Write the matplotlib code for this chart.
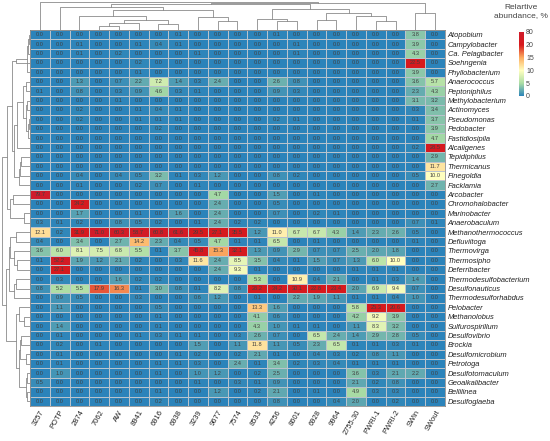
import matplotlib.pyplot as plt
import numpy as np
from matplotlib.colors import LinearSegmentedColormap, FuncNorm

plt.rcParams['font.family'] = ['Liberation Sans', 'DejaVu Sans']

samples = ["3257", "POTP", "2874", "7062", "AW", "8941", "6916", "6938", "3239",
           "9677", "7574", "8533", "4256", "8601", "6928", "9964", "2755-30",
           "PWRI-1", "PWRI-2", "SWin", "SWout"]

genera = ["Atopobium", "Campylobacter", "Ca. Pelagibacter", "Soehngenia",
          "Phyllobacterium", "Anaerococcus", "Peptoniphilus", "Methylobacterium",
          "Actinomyces", "Pseudomonas", "Pedobacter", "Fastidiosipila",
          "Alcaligenes", "Tepidiphilus", "Thermicanus", "Finegoldia", "Facklamia",
          "Arcobacter", "Chromohalobacter", "Marinobacter", "Anaerobaculum",
          "Methanothermococcus", "Defluviitoga", "Thermovirga", "Thermosipho",
          "Deferribacter", "Thermodesulfobacterium", "Desulfonauticus",
          "Thermodesulforhabdus", "Pelobacter", "Methanolobus", "Sulfurospirillum",
          "Desulfovibrio", "Brockia", "Desulfomicrobium", "Petrotoga",
          "Desulfotomaculum", "Geoalkalibacter", "Bellilinea", "Desulfoglaeba"]

# relative abundance, %  (rows = genera, cols = samples)
abundance = [
    [0, 0, 0, 0, 0, 0, 0, 0.1, 0, 0, 0, 0, 0.1, 0, 0, 0, 0, 0, 0, 3.8, 0],
    [0, 0, 0.1, 0, 0, 0.1, 0.4, 0.1, 0, 0, 0, 0, 0, 0.1, 0, 0, 0, 0, 0, 3.9, 0],
    [0, 0, 0.1, 0, 0.2, 0, 0, 0, 0.1, 0, 0, 0, 0, 0.1, 0, 0, 0, 0, 0, 4.3, 0],
    [0, 0, 0, 0, 0, 0.2, 0, 0, 0, 0, 0, 0, 0, 0, 0, 0, 0, 0, 0, 22.5, 0],
    [0, 0, 0, 0, 0, 0.1, 0, 0, 0, 0, 0, 0, 0, 0, 0, 0, 0, 0, 0, 3.9, 0],
    [0, 0, 1.3, 0, 0.7, 2.2, 7.2, 1.4, 0.3, 2.4, 0, 0, 2.6, 0.8, 0, 0, 0, 0, 0, 3.6, 5.7],
    [0.1, 0, 0.8, 0, 0.3, 0.9, 4.6, 0.3, 0.1, 0, 0, 0, 0.9, 0.3, 0, 0, 0, 0, 0, 2.3, 4.3],
    [0, 0, 0, 0, 0.1, 0, 0, 0, 0, 0, 0, 0, 0, 0, 0, 0, 0, 0, 0, 3.1, 3.2],
    [0, 0, 0.2, 0, 0, 0.1, 0.4, 0.1, 0, 0, 0, 0, 0, 0, 0, 0, 0, 0, 0, 0.3, 3.4],
    [0, 0, 0.2, 0, 0, 0.1, 0.1, 0.1, 0, 0, 0, 0, 0.2, 0.1, 0, 0, 0, 0, 0, 0.1, 3.7],
    [0, 0, 0, 0, 0, 0, 0.2, 0, 0, 0, 0, 0, 0, 0, 0, 0, 0, 0, 0, 0, 3.9],
    [0, 0, 0, 0, 0, 0, 0, 0, 0, 0, 0, 0, 0, 0, 0, 0, 0, 0, 0, 0, 4.7],
    [0, 0, 0, 0, 0, 0, 0, 0, 0, 0, 0, 0, 0, 0, 0, 0, 0, 0, 0, 0.2, 28.5],
    [0, 0, 0, 0, 0, 0, 0, 0, 0, 0, 0, 0, 0, 0, 0, 0, 0, 0, 0, 0, 2.9],
    [0, 0, 0, 0, 0, 0, 0, 0, 0, 0, 0, 0, 0, 0, 0, 0, 0, 0, 0, 0, 11.7],
    [0, 0, 0.4, 0, 0.4, 0.5, 3.2, 0.1, 0.3, 1.2, 0, 0, 0.8, 0.2, 0, 0, 0, 0, 0, 0.5, 10.0],
    [0, 0, 0.1, 0, 0, 0.2, 0.7, 0, 0.1, 0, 0, 0, 0, 0, 0, 0, 0, 0, 0, 0, 2.7],
    [79.7, 0, 0, 0, 0, 0, 0, 0, 0, 4.7, 0, 0, 1.5, 0, 0.1, 0, 0, 0, 0, 0, 0],
    [0, 0, 34.2, 0, 0, 0, 0, 0, 0, 2.4, 0, 0, 0.5, 0, 0, 0, 0, 0, 0, 0, 0],
    [0, 0, 1.7, 0, 0, 0.1, 0, 1.6, 0, 2.4, 0, 0, 0.7, 0, 0.2, 0.1, 0, 0, 0, 0, 0],
    [0.3, 0.1, 0.2, 0, 0.8, 0.5, 0.2, 0, 0.1, 2.4, 0.2, 0.2, 0, 0, 0, 0, 0, 0, 0, 0.7, 0.1],
    [12.1, 0.2, 31.9, 71.0, 60.3, 58.7, 60.8, 61.6, 29.5, 27.1, 35.5, 1.2, 11.0, 6.7, 6.7, 4.3, 1.4, 2.3, 2.6, 0.5, 0],
    [0.4, 0, 3.4, 0, 2.7, 14.2, 2.3, 0.4, 0.5, 4.7, 0.1, 0.1, 6.5, 0, 0.1, 0, 0, 0, 0, 0.1, 0],
    [3.6, 6.0, 8.1, 7.5, 6.8, 5.5, 0.1, 3.7, 45.8, 15.3, 32.1, 1.3, 0.9, 2.9, 0.7, 0.7, 2.5, 2.0, 1.8, 0, 0],
    [0.1, 52.2, 1.9, 1.2, 2.1, 0.2, 0, 0.3, 11.6, 2.4, 8.5, 3.5, 0.4, 0.1, 1.5, 0.7, 1.3, 6.0, 10.0, 0, 0],
    [0, 27.1, 0, 0, 0, 0, 0, 0, 0, 2.4, 9.3, 0.1, 0, 0, 0, 0, 0.1, 0.1, 0.1, 0, 0],
    [0, 0.3, 0, 0, 1.6, 0.2, 0.2, 0, 0, 0, 0, 5.3, 0, 10.9, 0.4, 2.1, 0, 0.1, 0.3, 1.4, 0],
    [0.8, 5.2, 5.5, 17.9, 16.3, 0.1, 3.0, 0.8, 0.1, 8.2, 0.8, 26.2, 34.2, 30.1, 22.8, 23.4, 2.0, 6.9, 9.4, 0.7, 0],
    [0, 0.9, 0.5, 0, 0, 0.3, 0, 0, 0.6, 1.2, 0, 0.1, 0, 2.2, 1.9, 1.1, 0.1, 0.1, 0.4, 1.0, 0],
    [0, 1.1, 0, 0, 0, 0, 0.5, 0, 0, 0, 0, 13.3, 1.6, 0, 0, 0, 5.8, 25.3, 20.6, 0, 0],
    [0, 0, 0, 0, 0, 0, 0.1, 0, 0, 0, 0, 4.1, 0.6, 0, 0, 0, 4.2, 9.2, 3.9, 0, 0],
    [0, 1.4, 0, 0, 0, 0, 0.1, 0, 0, 0, 0, 4.3, 1.0, 0.1, 0.1, 0, 1.1, 8.3, 3.2, 0, 0],
    [0, 0.1, 0, 0, 0, 0.1, 0.3, 0.1, 0.1, 0, 0.3, 2.6, 0.7, 0, 6.5, 2.4, 1.4, 2.9, 2.8, 0.5, 0],
    [0, 0.2, 0, 0.1, 0, 0, 0, 0, 1.5, 0, 1.1, 11.8, 1.1, 0.5, 2.3, 6.5, 0.1, 0.1, 0.3, 0.1, 0],
    [0, 0.1, 0, 0, 0, 0, 0, 0.1, 0.2, 0, 0.2, 2.1, 0.1, 0, 0.4, 0.3, 0.2, 0.8, 1.1, 0, 0],
    [0, 0.1, 0, 0, 0, 0, 0.1, 0.1, 0.3, 0, 2.4, 0.1, 3.4, 0.2, 0.3, 0.4, 0.1, 0.1, 0.1, 0, 0],
    [0, 1.0, 0, 0, 0, 0, 0.1, 0, 1.0, 1.2, 0, 0.2, 2.5, 0, 0, 0, 3.6, 0.3, 2.1, 2.2, 0],
    [0.5, 0, 0, 0, 0, 0, 0, 0, 0.1, 0, 0.3, 0.1, 0.9, 0, 0, 0, 2.1, 0.2, 0.8, 0, 0],
    [0, 0, 0, 0, 0, 0, 0.1, 0, 0, 1.2, 0, 0.2, 2.1, 0, 0.1, 0, 4.9, 0.3, 0.3, 0, 0],
    [0, 0, 0, 0, 0, 0, 0.2, 0, 0, 0, 0, 0, 0.8, 0, 0, 0.4, 2.0, 0, 0.2, 0, 0],
]

# dendrogram merges (left node, right node, height); new nodes numbered after leaves
col_merges = [
    (3, 4, 0.15), (21, 5, 0.25), (6, 7, 0.2), (22, 23, 0.35), (2, 24, 0.5),
    (9, 10, 0.3), (8, 26, 0.45), (25, 27, 0.7), (1, 28, 0.8), (12, 13, 0.3),
    (11, 30, 0.4), (14, 15, 0.35), (17, 18, 0.3), (16, 33, 0.5), (32, 34, 0.6),
    (31, 35, 0.75), (29, 36, 0.9), (19, 20, 0.6), (37, 38, 0.95), (0, 39, 1.0),
]
row_merges = [
    (0, 1, 0.05), (40, 2, 0.08), (41, 4, 0.1), (42, 3, 0.5), (5, 6, 0.15),
    (7, 8, 0.1), (9, 10, 0.05), (46, 11, 0.08), (45, 47, 0.15), (44, 48, 0.25),
    (49, 12, 0.45), (13, 14, 0.3), (51, 15, 0.35), (52, 16, 0.4), (50, 53, 0.55),
    (43, 54, 0.65), (17, 18, 0.6), (19, 20, 0.2), (56, 57, 0.7), (55, 58, 0.8),
    (21, 22, 0.5), (24, 25, 0.45), (23, 61, 0.55), (60, 62, 0.7), (26, 27, 0.5),
    (64, 28, 0.55), (63, 65, 0.75), (30, 31, 0.2), (29, 67, 0.4), (32, 33, 0.3),
    (34, 35, 0.15), (69, 70, 0.35), (36, 37, 0.1), (38, 39, 0.1), (72, 73, 0.15),
    (71, 74, 0.4), (68, 75, 0.5), (66, 76, 0.85), (59, 77, 1.0),
]


def dendro_segments(merges, n):
    pos = {i: i + 0.5 for i in range(n)}
    hgt = {i: 0.0 for i in range(n)}
    segs = []
    for k, (a, b, h) in enumerate(merges):
        segs.append(([pos[a], pos[a], pos[b], pos[b]], [hgt[a], h, h, hgt[b]]))
        pos[n + k] = (pos[a] + pos[b]) / 2
        hgt[n + k] = h
    return segs


data = np.array(abundance)
n_rows, n_cols = data.shape

breaks = [0, 5, 10, 15, 20, 80]
steps = [0, 1, 2, 3, 4, 5]
norm = FuncNorm((lambda v: np.interp(v, breaks, steps),
                 lambda s: np.interp(s, steps, breaks)), vmin=0, vmax=80)
cmap = LinearSegmentedColormap.from_list(
    "abund", [(0.0, "#2b83ba"), (0.2, "#abdda4"), (0.4, "#ffffbf"),
              (0.6, "#fdae61"), (0.8, "#d7191c"), (1.0, "#d01c2b")])

W, H = 550, 441
fig = plt.figure(figsize=(W / 100, H / 100), dpi=100)
hx0, hx1, hy0, hy1 = 30, 445, 30, 406
ax = fig.add_axes([hx0 / W, 1 - hy1 / H, (hx1 - hx0) / W, (hy1 - hy0) / H])
ax_top = fig.add_axes([hx0 / W, 1 - hy0 / H, (hx1 - hx0) / W, (hy0 - 1) / H])
ax_left = fig.add_axes([1 / W, 1 - hy1 / H, (hx0 - 1) / W, (hy1 - hy0) / H])
ax_cb = fig.add_axes([519 / W, 1 - 96 / H, 5 / W, 64 / H])

mesh = ax.pcolormesh(np.arange(n_cols + 1), np.arange(n_rows + 1), data,
                     cmap=cmap, norm=norm, edgecolors="#b9c3cc", linewidth=0.4)
for i in range(n_rows):
    for j in range(n_cols):
        ax.text(j + 0.5, i + 0.5, f"{data[i, j]:.1f}", ha="center", va="center",
                fontsize=4.1, color="#404040")
ax.set_xlim(0, n_cols)
ax.set_ylim(n_rows, 0)
ax.yaxis.tick_right()
ax.set_yticks(np.arange(n_rows) + 0.5)
ax.set_yticklabels(genera, fontsize=5.4, style="italic", color="#222222")
ax.set_xticks(np.arange(n_cols) + 0.5)
ax.set_xticklabels(samples, fontsize=5.4, rotation=60, ha="right",
                   rotation_mode="anchor", color="#222222")
ax.tick_params(length=0, pad=2)
for s in ax.spines.values():
    s.set_linewidth(0.5)
    s.set_color("#777777")

for xs, ys in dendro_segments(col_merges, n_cols):
    ax_top.plot(xs, ys, color="#8a8a8a", linewidth=0.6)
ax_top.set_xlim(0, n_cols)
ax_top.set_ylim(0, 1.02)
ax_top.axis("off")

for ys, xs in dendro_segments(row_merges, n_rows):
    ax_left.plot(xs, ys, color="#8a8a8a", linewidth=0.6)
ax_left.set_ylim(n_rows, 0)
ax_left.set_xlim(1.02, 0)
ax_left.axis("off")

cb = fig.colorbar(mesh, cax=ax_cb, ticks=breaks)
cb.outline.set_visible(False)
cb.ax.tick_params(labelsize=5, length=0, pad=1.5, colors="#444444")
fig.text(521 / W, 1 - 4 / H, "Relartive\nabundance, %", ha="center", va="top",
         fontsize=6, color="#444444", linespacing=1.3)

fig.savefig("out.png", dpi=100)
